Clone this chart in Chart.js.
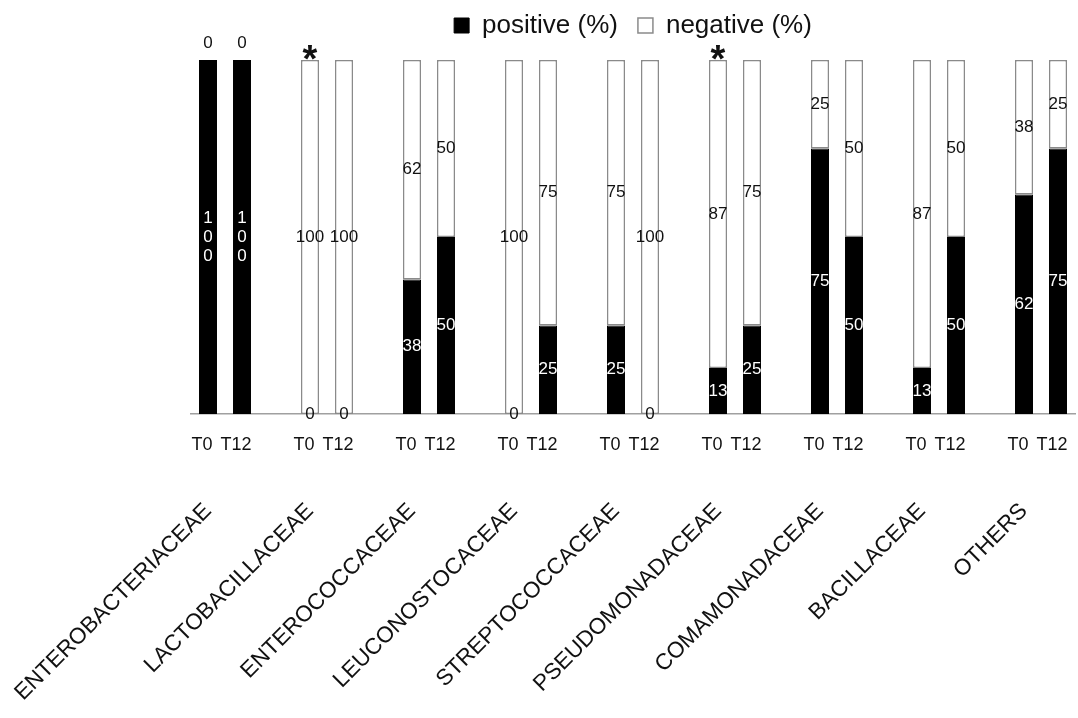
<!DOCTYPE html>
<html>
<head>
<meta charset="utf-8">
<script src="https://cdn.jsdelivr.net/npm/chart.js@4.4.0/dist/chart.umd.min.js"></script>
<style>
  html, body { margin: 0; padding: 0; background: #fff; }
  #wrap { width: 1078px; height: 718px; }
</style>
</head>
<body>
<div id="wrap"><canvas id="chart"></canvas></div>
<script>
const families = ['ENTEROBACTERIACEAE', 'LACTOBACILLACEAE', 'ENTEROCOCCACEAE', 'LEUCONOSTOCACEAE',
    'STREPTOCOCCACEAE', 'PSEUDOMONADACEAE', 'COMAMONADACEAE', 'BACILLACEAE', 'OTHERS'];
const times = ['T0', 'T12'];
const positiveT0 = [100, 0, 38, 0, 25, 13, 75, 13, 62];
const positiveT12 = [100, 0, 50, 25, 0, 25, 50, 50, 75];
const negativeT0 = [0, 100, 62, 100, 75, 87, 25, 87, 38];
const negativeT12 = [0, 100, 50, 75, 100, 75, 50, 50, 25];
const significance = ['', '*', '', '', '', '*', '', '', ''];

const FONT = '"Liberation Sans", Arial, sans-serif';
Chart.defaults.font.family = FONT;
Chart.defaults.color = '#111';

// one slot per bar, with an empty slot between two families
let timeLabels = [], familyLabels = [], positive = [], negative = [], marks = [];
families.forEach((f, i) => {
    timeLabels.push(times[0], times[1]);
    familyLabels.push(f, '');
    positive.push(positiveT0[i], positiveT12[i]);
    negative.push(negativeT0[i], negativeT12[i]);
    marks.push(significance[i], '');
    if (i < families.length - 1) {
        timeLabels.push('');
        familyLabels.push('');
        positive.push(null);
        negative.push(null);
        marks.push('');
    }
});

const valueLabels = {
    id: 'valueLabels',
    afterDatasetsDraw(chart) {
        const ctx = chart.ctx;
        ctx.save();
        ctx.font = '17px ' + FONT;
        ctx.textAlign = 'center';
        ctx.textBaseline = 'middle';
        chart.data.datasets.forEach((ds, di) => {
            chart.getDatasetMeta(di).data.forEach((bar, j) => {
                const v = ds.data[j];
                if (v === null || v === undefined) return;
                const text = String(v);
                let y = (bar.y + bar.base) / 2;
                let color = di === 0 ? '#fff' : '#111';
                if (v === 0) {
                    color = '#111';
                    if (di === 1) y = bar.y - 17;
                }
                ctx.fillStyle = color;
                if (di === 0 && v !== 0 && ctx.measureText(text).width > bar.width * 1.4) {
                    // far too wide for the black bar: one digit per line
                    [...text].forEach((c, k) => ctx.fillText(c, bar.x, y + (k - (text.length - 1) / 2) * 19));
                } else {
                    ctx.fillText(text, bar.x, y);
                }
            });
        });
        // significance marks over the T0 bars
        ctx.font = 'bold 38px ' + FONT;
        ctx.textBaseline = 'alphabetic';
        ctx.fillStyle = '#111';
        const top = chart.scales.y.getPixelForValue(100);
        const meta = chart.getDatasetMeta(1);
        marks.forEach((m, j) => {
            if (m) ctx.fillText(m, meta.data[j].x, top + 12);
        });
        ctx.restore();
    }
};

new Chart('chart', {
    type: 'bar',
    data: {
        labels: timeLabels,
        datasets: [{
            label: 'positive (%)',
            data: positive,
            backgroundColor: '#000',
            borderColor: '#000',
            borderWidth: 1,
            borderSkipped: false,
            barPercentage: 0.53,
            categoryPercentage: 1
        }, {
            label: 'negative (%)',
            data: negative,
            backgroundColor: '#fff',
            borderColor: '#8a8a8a',
            borderWidth: 1.5,
            borderSkipped: false,
            barPercentage: 0.53,
            categoryPercentage: 1
        }]
    },
    options: {
        responsive: true,
        maintainAspectRatio: false,
        animation: false,
        layout: { padding: { left: 191, right: 3, top: -7.5, bottom: 0 } },
        plugins: {
            legend: {
                position: 'top',
                fullSize: false,
                labels: { font: { size: 26 }, color: '#111', boxWidth: 15, boxHeight: 15, padding: 20 }
            },
            title: {
                // empty spacer between the legend and the bars
                display: true,
                text: '',
                weight: 500,
                padding: 0,
                font: { size: 10, lineHeight: 1.15 }
            },
            tooltip: { enabled: false }
        },
        scales: {
            x: {
                stacked: true,
                grid: { display: false, drawTicks: false },
                border: { display: true, color: '#a0a0a0', width: 1.5 },
                ticks: { font: { size: 18 }, color: '#111', padding: 20, maxRotation: 0, autoSkip: false, labelOffset: -6 },
                afterFit: scale => {
                    scale.paddingLeft = 0;
                    scale.paddingRight = 0;
                    scale.height = 50;
                }
            },
            x2: {
                type: 'category',
                labels: familyLabels,
                position: 'bottom',
                offset: true,
                grid: { display: false, drawTicks: false, offset: true },
                border: { display: false },
                ticks: { font: { size: 22.5 }, color: '#111', padding: 34, minRotation: 45, maxRotation: 45, autoSkip: false },
                afterFit: scale => {
                    // let the long names run off the left edge like the original
                    scale.paddingLeft = 0;
                    scale.paddingRight = 0;
                    scale.height = 254;
                }
            },
            y: { stacked: true, min: 0, max: 100, display: false }
        }
    },
    plugins: [valueLabels]
});
</script>
</body>
</html>
